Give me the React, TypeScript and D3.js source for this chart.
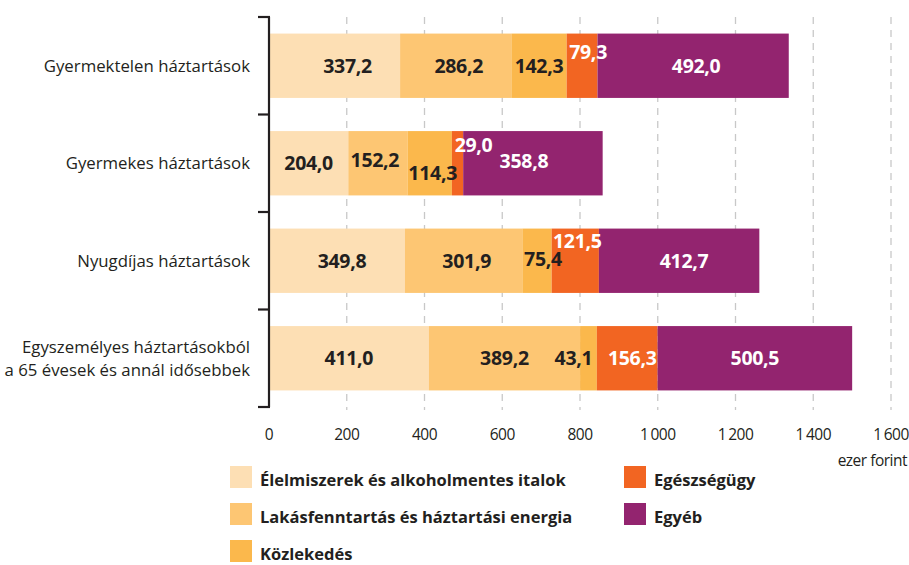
import { useEffect, useRef } from 'react';
import * as d3 from 'd3';

// household types (rows), top to bottom
const households = [
  ['Gyermektelen háztartások'],
  ['Gyermekes háztartások'],
  ['Nyugdíjas háztartások'],
  ['Egyszemélyes háztartásokból', 'a 65 évesek és annál idősebbek'],
];

const seriesNames = [
  'Élelmiszerek és alkoholmentes italok',
  'Lakásfenntartás és háztartási energia',
  'Közlekedés',
  'Egészségügy',
  'Egyéb',
];

// values in ezer forint, per series, one per household row
const food = [337.2, 204.0, 349.8, 411.0];
const housing = [286.2, 152.2, 301.9, 389.2];
const transport = [142.3, 114.3, 75.4, 43.1];
const health = [79.3, 29.0, 121.5, 156.3];
const other = [492.0, 358.8, 412.7, 500.5];

const xTicks = [0, 200, 400, 600, 800, 1000, 1200, 1400, 1600];

const colors = ['#fddfb4', '#fdc673', '#fbb84c', '#f26522', '#93246f'];
const labelColors = ['#231f20', '#231f20', '#231f20', '#ffffff', '#ffffff'];

// hand nudges for value labels, as in the original layout (row-series: [dx, dy])
const nudges: Record<string, [number, number]> = {
  '0-0': [13, 0],
  '0-1': [3, 0],
  '0-3': [6, -14],
  '0-4': [3, 0],
  '1-1': [-3, -3],
  '1-2': [3, 10],
  '1-3': [16, -18],
  '1-4': [-9, -2],
  '2-0': [5, 0],
  '2-1': [3, 0],
  '2-2': [6, -2],
  '2-3': [2, -20],
  '2-4': [5, 0],
  '3-2': [-15, 0],
  '3-3': [5, 0],
};

const fmt = (v: number) => v.toFixed(1).replace('.', ',');
const fmtTick = (v: number) => (v >= 1000 ? d3.format(',')(v).replace(',', '\u2009') : String(v));

export default function App() {
  const ref = useRef<SVGSVGElement>(null);

  useEffect(() => {
    if (!ref.current) return;
    const svg = d3.select(ref.current);
    svg.selectAll('*').remove();

    const font = "'Open Sans', 'Noto Sans', sans-serif";
    const dark = '#231f20';
    const series = [food, housing, transport, health, other];

    const x = d3.scaleLinear().domain([0, 1600]).range([269, 891]);
    const y = d3
      .scaleBand<number>()
      .domain(households.map((_, i) => i))
      .range([17, 407])
      .paddingInner(0.34)
      .paddingOuter(0.17);

    // dashed gridlines
    svg
      .append('g')
      .selectAll('line')
      .data(xTicks.slice(1))
      .enter()
      .append('line')
      .attr('x1', (d) => x(d))
      .attr('x2', (d) => x(d))
      .attr('y1', 17)
      .attr('y2', 410)
      .attr('stroke', '#c8c8c8')
      .attr('stroke-width', 1.3)
      .attr('stroke-dasharray', '7,6');

    // stacked bars
    const rows = households.map((_, i) => series.map((s) => s[i]));
    const stacked = d3
      .stack<number[], number>()
      .keys(d3.range(series.length))
      .value((d, k) => d[k])(rows);

    stacked.forEach((layer, k) => {
      svg
        .append('g')
        .selectAll('rect')
        .data(layer)
        .enter()
        .append('rect')
        .attr('x', (d) => x(d[0]))
        .attr('y', (_, i) => y(i)!)
        .attr('width', (d) => x(d[1]) - x(d[0]))
        .attr('height', y.bandwidth())
        .attr('fill', colors[k]);
    });

    // value labels
    stacked.forEach((layer, k) => {
      layer.forEach((d, i) => {
        const [dx, dy] = nudges[`${i}-${k}`] || [0, 0];
        svg
          .append('text')
          .attr('x', (x(d[0]) + x(d[1])) / 2 + dx)
          .attr('y', y(i)! + y.bandwidth() / 2 + dy)
          .attr('dy', '0.35em')
          .attr('text-anchor', 'middle')
          .attr('font-family', font)
          .attr('font-weight', 700)
          .attr('font-size', 19.5)
          .attr('letter-spacing', -0.3)
          .attr('fill', labelColors[k])
          .text(fmt(rows[i][k]));
      });
    });

    // left bracket axis
    const ax = svg.append('g').attr('stroke', dark).attr('stroke-width', 2.2).attr('fill', 'none');
    ax.append('line').attr('x1', 269).attr('x2', 269).attr('y1', 17).attr('y2', 407);
    const sepYs = [17, ...households.slice(1).map((_, i) => (y(i)! + y.bandwidth() + y(i + 1)!) / 2), 407];
    ax.selectAll('line.t')
      .data(sepYs)
      .enter()
      .append('line')
      .attr('class', 't')
      .attr('x1', 258)
      .attr('x2', 270)
      .attr('y1', (d) => d)
      .attr('y2', (d) => d);

    // category labels
    households.forEach((lines, i) => {
      const cy = y(i)! + y.bandwidth() / 2;
      const t = svg
        .append('text')
        .attr('text-anchor', 'end')
        .attr('font-family', font)
        .attr('font-size', 16.8)
        .attr('fill', dark);
      lines.forEach((ln, j) => {
        t.append('tspan')
          .attr('x', 250)
          .attr('y', cy + (j - (lines.length - 1) / 2) * 23)
          .attr('dy', '0.35em')
          .text(ln);
      });
    });

    // x tick labels
    svg
      .append('g')
      .selectAll('text')
      .data(xTicks)
      .enter()
      .append('text')
      .attr('x', (d) => x(d))
      .attr('y', 435)
      .attr('dy', '0.35em')
      .attr('text-anchor', 'middle')
      .attr('font-family', font)
      .attr('font-size', 15.5)
      .attr('letter-spacing', -0.5)
      .attr('fill', dark)
      .text(fmtTick);

    svg
      .append('text')
      .attr('x', 907)
      .attr('y', 461)
      .attr('dy', '0.35em')
      .attr('text-anchor', 'end')
      .attr('font-family', font)
      .attr('font-size', 15.5)
      .attr('letter-spacing', -0.5)
      .attr('fill', dark)
      .text('ezer forint');

    // legend
    const legendPos = [
      [230, 466],
      [230, 503],
      [230, 540],
      [624, 466],
      [624, 503],
    ];
    seriesNames.forEach((name, k) => {
      const [lx, ly] = legendPos[k];
      svg.append('rect').attr('x', lx).attr('y', ly).attr('width', 22).attr('height', 22).attr('fill', colors[k]);
      svg
        .append('text')
        .attr('x', lx + 30)
        .attr('y', ly + 14)
        .attr('dy', '0.35em')
        .attr('font-family', font)
        .attr('font-weight', 700)
        .attr('font-size', 16.5)
        .attr('fill', dark)
        .text(name);
    });
  }, []);

  return (
    <svg
      ref={ref}
      width={909}
      height={565}
      style={{ position: 'absolute', left: 0, top: 0, display: 'block', background: '#fff' }}
    />
  );
}
